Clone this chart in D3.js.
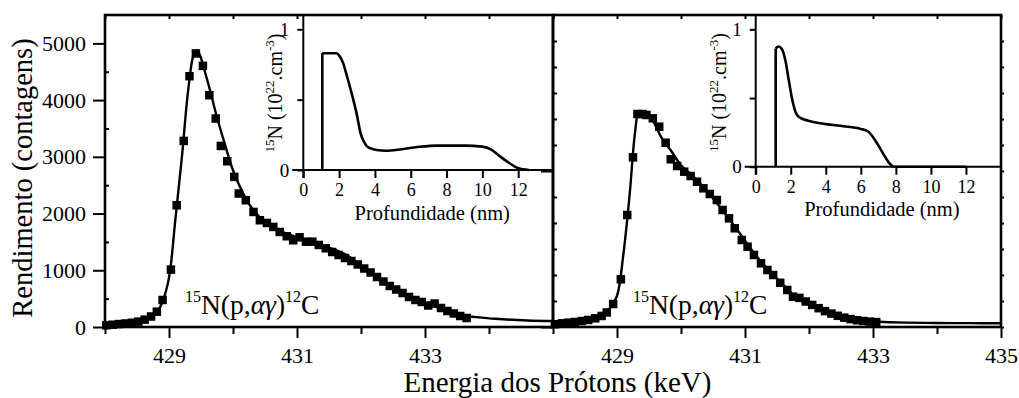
<!DOCTYPE html>
<html>
<head>
<meta charset="utf-8">
<script src="https://cdn.jsdelivr.net/npm/d3@7"></script>
<style>
  html, body { margin: 0; padding: 0; background: #fff; }
  svg { display: block; font-family: "Liberation Serif", "Times New Roman", serif; }
</style>
</head>
<body>
<svg id="chart" width="1019" height="398"></svg>
<script>
// ---- Excitation curve, sample A (left panel) ----
const energyA = [428.02,428.12,428.22,428.32,428.42,428.52,428.62,428.72,428.81,428.90,
  429.03,429.12,429.23,429.32,429.42,429.53,429.63,429.73,429.81,429.91,
  430.02,430.09,430.20,430.32,430.42,430.53,430.63,430.73,430.84,430.94,
  431.04,431.14,431.24,431.34,431.45,431.55,431.65,431.75,431.85,431.95,
  432.05,432.15,432.25,432.35,432.45,432.55,432.65,432.75,432.85,432.95,
  433.05,433.15,433.25,433.35,433.45,433.55,433.65];
const countsA = [30,40,52,62,75,95,130,185,270,476,
  1012,2146,3280,4421,4822,4603,4086,3675,3192,2922,
  2646,2353,2235,2028,1882,1834,1764,1675,1600,1529,
  1581,1504,1504,1446,1387,1322,1269,1216,1163,1102,
  1031,961,881,802,723,661,599,529,476,441,
  379,414,335,282,238,194,159];
// simulated yield for sample A
const fitEnergyA = [428.0,428.3,428.5,428.7,428.8,428.9,429.0,429.1,429.2,429.3,429.38,429.43,429.48,
  429.54,429.64,429.74,429.87,430.0,430.16,430.32,430.53,430.84,431.15,431.4,431.6,431.8,
  432.0,432.2,432.4,432.6,432.8,433.0,433.2,433.4,433.6,433.8,434.1,434.6,435.0];
const fitCountsA = [35,55,85,160,240,450,870,1900,2980,4180,4780,4880,4800,
  4583,4178,3738,3233,2763,2352,2057,1822,1646,1528,1440,1360,1250,
  1080,920,770,630,505,415,345,265,200,175,145,115,105];

// ---- Excitation curve, sample B (right panel) ----
const energyB = [428.03,428.14,428.24,428.34,428.45,428.55,428.66,428.76,428.84,428.94,
  429.06,429.16,429.25,429.32,429.40,429.46,429.56,429.66,429.76,429.84,
  429.94,430.05,430.15,430.25,430.35,430.45,430.56,430.65,430.75,430.84,
  430.95,431.04,431.14,431.25,431.35,431.44,431.55,431.66,431.75,431.85,
  431.95,432.05,432.15,432.25,432.35,432.45,432.55,432.65,432.75,432.85,
  432.95,433.05];
const countsB = [52,71,83,96,115,135,167,212,280,442,
  917,2154,3263,4096,4096,4077,4013,3852,3544,3225,
  3096,2987,2904,2794,2667,2558,2442,2250,2090,1898,
  1673,1544,1385,1225,1096,1000,850,712,583,560,
  490,425,362,305,258,215,180,152,130,115,
  103,95];
const fitEnergyB = [428.0,428.3,428.5,428.7,428.8,428.9,429.0,429.1,429.2,429.28,429.34,429.42,429.5,
  429.55,429.7,429.85,430.0,430.15,430.3,430.6,430.9,431.2,431.55,431.85,432.1,432.3,
  432.5,432.7,432.9,433.1,433.5,434.0,434.5,435.0];
const fitCountsB = [45,80,120,165,230,380,600,1400,2580,3720,4120,4130,4080,
  4000,3630,3380,3110,2940,2760,2320,1830,1330,870,525,390,285,
  200,150,118,100,85,78,74,72];

// ---- 15N depth profiles (insets) ----
const depthA = [1.06,1.06,1.85,2.05,2.23,2.42,2.7,2.98,3.2,3.39,3.63,4.1,4.6,5.5,6.5,7.5,9.0,10.0,10.5,11.0,11.5,12.0,12.6];
const concA  = [0,0.83,0.83,0.805,0.758,0.675,0.545,0.40,0.26,0.20,0.16,0.142,0.137,0.148,0.165,0.173,0.173,0.166,0.145,0.095,0.05,0.012,0];
const depthB = [1.14,1.14,1.3,1.5,1.7,1.9,2.1,2.3,2.55,3.0,4.0,5.0,6.0,6.4,6.7,7.0,7.3,7.6,7.9,12.0];
const concB  = [0,0.86,0.875,0.855,0.77,0.62,0.48,0.39,0.355,0.335,0.31,0.295,0.275,0.258,0.215,0.155,0.09,0.03,0,0];

// ---- tick values ----
const xMajorA = [429,431,433];
const xMajorB = [429,431,433,435];
const xMinor = [428,430,432,434];
const xAll = [428,429,430,431,432,433,434,435];
const yMajorA = [0,1000,2000,3000,4000,5000];
const yMinorA = [500,1500,2500,3500,4500];
const yMajorB = [0,3000];
const yMinorB = [500,1000,1500,2000,2500,3500,4000,4500,5000,5500];
const insetXTicks = [0,2,4,6,8,10,12];
const insetYTicks = [0,0.5,1];

const svg = d3.select("#chart");
const plotTop = 15, plotBottom = 327;

const xA = d3.scaleLinear([428,435],[105,553]);
const xB = d3.scaleLinear([428,435],[553,1001]);
const yA = d3.scaleLinear([0,5500],[plotBottom,plotTop]);
const yB = d3.scaleLinear([0,6000],[plotBottom,plotTop]);

function styleAxis(g, fs) {
  g.select(".domain").remove();
  g.selectAll(".tick line").attr("stroke","#000").attr("stroke-width",2);
  g.selectAll(".tick text").attr("fill","#000").attr("font-size",fs)
    .attr("font-family","'Liberation Serif','Times New Roman',serif");
  g.attr("font-size",null).attr("font-family",null);
}

// ---------- main axes ----------
function mainPanel(x, xMajor) {
  // bottom: labelled odd energies, short ticks in between
  svg.append("g").attr("transform",`translate(0,${plotBottom})`)
    .call(d3.axisBottom(x).tickValues(xMajor).tickSize(11).tickPadding(9).tickFormat(d3.format("d")))
    .call(g => styleAxis(g, 22));
  svg.append("g").attr("transform",`translate(0,${plotBottom})`)
    .call(d3.axisBottom(x).tickValues(xMinor).tickSize(7).tickFormat(""))
    .call(g => styleAxis(g, 22));
  // top: small inward ticks
  svg.append("g").attr("transform",`translate(0,${plotTop})`)
    .call(d3.axisBottom(x).tickValues(xAll).tickSize(4).tickFormat(""))
    .call(g => styleAxis(g, 22));
}
mainPanel(xA, xMajorA);
mainPanel(xB, xMajorB);

// left y axis (sample A)
svg.append("g").attr("transform",`translate(${xA.range()[0]},0)`)
  .call(d3.axisLeft(yA).tickValues(yMajorA).tickSize(12).tickPadding(7).tickFormat(d3.format("d")))
  .call(g => styleAxis(g, 22));
svg.append("g").attr("transform",`translate(${xA.range()[0]},0)`)
  .call(d3.axisRight(yA).tickValues(yMinorA).tickSize(4).tickFormat(""))
  .call(g => styleAxis(g, 22));
// y axis of sample B on the shared border, unlabelled
svg.append("g").attr("transform",`translate(${xB.range()[0]},0)`)
  .call(d3.axisLeft(yB).tickValues(yMajorB).tickSize(12).tickFormat(""))
  .call(g => styleAxis(g, 22));
svg.append("g").attr("transform",`translate(${xB.range()[0]},0)`)
  .call(d3.axisRight(yB).tickValues(yMinorB).tickSize(4).tickFormat(""))
  .call(g => styleAxis(g, 22));
svg.append("g").attr("transform",`translate(${xB.range()[1]},0)`)
  .call(d3.axisRight(yB).tickValues(yMinorB.concat(yMajorB)).tickSize(3).tickFormat(""))
  .call(g => styleAxis(g, 22));

// panel frames
[xA, xB].forEach(x => {
  svg.append("rect")
    .attr("x", x.range()[0]).attr("y", plotTop)
    .attr("width", x.range()[1] - x.range()[0]).attr("height", plotBottom - plotTop)
    .attr("fill","none").attr("stroke","#000").attr("stroke-width",2.6);
});

// ---------- insets ----------
function inset(x, y, depth, conc, titleOffset, titleY) {
  const g = svg.append("g");
  const x0 = x(0), y0 = y(0);
  // axis lines
  g.append("line").attr("x1", x0 - 11).attr("x2", x.range()[1]).attr("y1", y0).attr("y2", y0)
    .attr("stroke","#000").attr("stroke-width",2);
  g.append("line").attr("x1", x0).attr("x2", x0).attr("y1", y0 + 8).attr("y2", y.range()[1])
    .attr("stroke","#000").attr("stroke-width",2);
  g.append("g").attr("transform",`translate(0,${y0})`)
    .call(d3.axisBottom(x).tickValues(insetXTicks).tickSize(8).tickPadding(5.5).tickFormat(d3.format("d")))
    .call(a => styleAxis(a, 18));
  g.append("g").attr("transform",`translate(${x0},0)`)
    .call(d3.axisLeft(y).tickValues(insetYTicks).tickSize(6).tickPadding(8)
      .tickFormat(d => d === 0.5 ? "" : d3.format("d")(d)))
    .call(a => styleAxis(a, 19));

  // depth profile: step edge at the surface, smooth profile afterwards
  const pts = depth.map((d, i) => [x(d), y(conc[i])]);
  g.append("path")
    .attr("d", d3.line()(pts.slice(0, 2)))
    .attr("fill","none").attr("stroke","#000").attr("stroke-width",2.6);
  g.append("path")
    .attr("d", d3.line().curve(d3.curveMonotoneX)(pts.slice(1)))
    .attr("fill","none").attr("stroke","#000").attr("stroke-width",2.6)
    .attr("stroke-linejoin","round");

  // titles
  g.append("text").attr("x", x(7.2)).attr("y", y0 + 49.5)
    .attr("text-anchor","middle").attr("font-size",20.5).text("Profundidade (nm)");
  const t = g.append("text")
    .attr("transform",`translate(${x0 - titleOffset},${titleY}) rotate(-90)`)
    .attr("text-anchor","middle").attr("font-size",20);
  t.append("tspan").attr("font-size",13).attr("dy",-8).text("15");
  t.append("tspan").attr("dy",8).text("N (10");
  t.append("tspan").attr("font-size",13).attr("dy",-8).text("22");
  t.append("tspan").attr("dy",8).text(".cm");
  t.append("tspan").attr("font-size",13).attr("dy",-8).text("-3");
  t.append("tspan").attr("dy",8).text(")");
}
inset(d3.scaleLinear([0,14],[303.3,554]), d3.scaleLinear([0,1.1],[170,15.2]), depthA, concA, 21.5, 93);
inset(d3.scaleLinear([0,14],[755.7,1001]), d3.scaleLinear([0,1.1],[166.7,15.6]), depthB, concB, 30, 92.5);

// ---------- data ----------
function spectrum(x, y, en, cts, fen, fct) {
  svg.append("path")
    .attr("d", d3.line().x((d, i) => x(fen[i])).y((d, i) => y(fct[i])).curve(d3.curveCatmullRom.alpha(0.5))(fen))
    .attr("fill","none").attr("stroke","#000").attr("stroke-width",2.4);
  const s = 8.5;
  svg.append("g").selectAll("rect").data(en).join("rect")
    .attr("x", d => x(d) - s / 2)
    .attr("y", (d, i) => y(cts[i]) - s / 2)
    .attr("width", s).attr("height", s).attr("fill","#000");
}
spectrum(xA, yA, energyA, countsA, fitEnergyA, fitCountsA);
spectrum(xB, yB, energyB, countsB, fitEnergyB, fitCountsB);

// reaction labels
function reaction(x) {
  const t = svg.append("text").attr("x", x(429.25)).attr("y", 314).attr("font-size",27.5);
  t.append("tspan").attr("font-size",16).attr("dy",-12).text("15");
  t.append("tspan").attr("dy",12).text("N(p,");
  t.append("tspan").attr("font-style","italic").text("αγ");
  t.append("tspan").text(")");
  t.append("tspan").attr("font-size",16).attr("dy",-12).text("12");
  t.append("tspan").attr("dy",12).text("C");
}
reaction(xA);
reaction(xB);

// axis titles
svg.append("text").attr("x", 557.5).attr("y", 391.5).attr("text-anchor","middle")
  .attr("font-size",29).text("Energia dos Prótons (keV)");
svg.append("text").attr("transform","translate(32,178) rotate(-90)").attr("text-anchor","middle")
  .attr("font-size",28.5).text("Rendimento (contagens)");
</script>
</body>
</html>
